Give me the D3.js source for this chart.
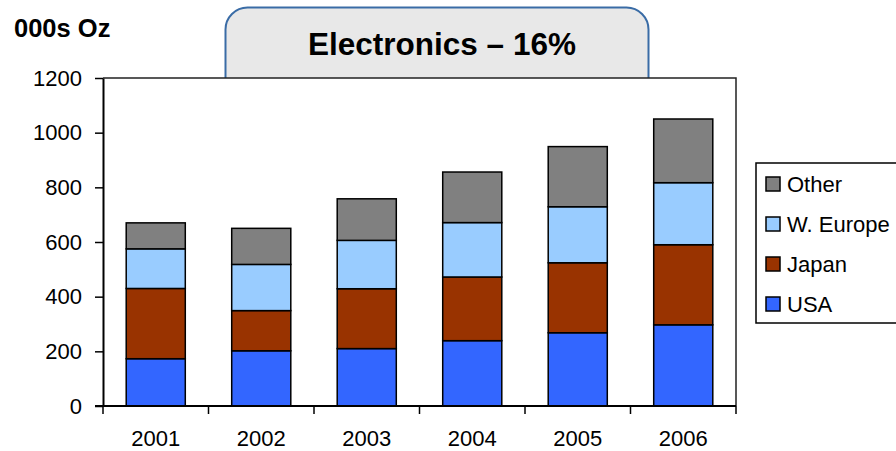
<!DOCTYPE html>
<html>
<head>
<meta charset="utf-8">
<script src="https://cdn.jsdelivr.net/npm/d3@7"></script>
<style>
    body { margin: 0; background: #fff; }
    svg { display: block; }
    text { font-family: "Liberation Sans", Arial, sans-serif; fill: #000; }
</style>
</head>
<body>
<div id="chart"></div>
<script>
// Data (000s oz)
var years = ["2001", "2002", "2003", "2004", "2005", "2006"];
var usa = [173, 202, 210, 239, 268, 297];
var japan = [257, 147, 219, 233, 256, 293];
var wEurope = [145, 169, 177, 199, 205, 227];
var other = [95, 132, 152, 185, 220, 233];
var seriesNames = ["USA", "Japan", "W. Europe", "Other"];
var seriesColors = ["#3366ff", "#993300", "#99ccff", "#808080"];
var yTicks = [0, 200, 400, 600, 800, 1000, 1200];

var width = 896,
    height = 451,
    plot = { left: 103, right: 736, top: 78, bottom: 406 };

var svg = d3.select("#chart").append("svg")
    .attr("width", width)
    .attr("height", height);

// Title tab, partly hidden behind the plot area
svg.append("rect")
    .attr("x", 225.5)
    .attr("y", 7.5)
    .attr("width", 423)
    .attr("height", 110)
    .attr("rx", 22)
    .attr("ry", 22)
    .attr("fill", "#e8e8e8")
    .attr("stroke", "#3a6ca6")
    .attr("stroke-width", 2);

svg.append("text")
    .attr("x", 442)
    .attr("y", 55)
    .attr("text-anchor", "middle")
    .attr("font-size", "31.5px")
    .attr("font-weight", "bold")
    .text("Electronics \u2013 16%");

svg.append("text")
    .attr("x", 14)
    .attr("y", 37)
    .attr("font-size", "25.5px")
    .attr("font-weight", "bold")
    .text("000s Oz");

// plot area background covers the bottom of the title tab
svg.append("rect")
    .attr("x", plot.left)
    .attr("y", plot.top)
    .attr("width", plot.right - plot.left)
    .attr("height", plot.bottom - plot.top)
    .attr("fill", "#fff");

var x = d3.scaleBand()
    .domain(years)
    .range([plot.left, plot.right])
    .paddingInner(0.44)
    .paddingOuter(0.22);

var xOuter = d3.scaleBand()
    .domain(years)
    .range([plot.left, plot.right]);

var y = d3.scaleLinear()
    .domain([0, 1200])
    .range([plot.bottom, plot.top]);

var rows = years.map(function (yr, i) {
    return { year: yr, "USA": usa[i], "Japan": japan[i], "W. Europe": wEurope[i], "Other": other[i] };
});
var stacked = d3.stack().keys(seriesNames)(rows);

// Bars
svg.append("g").selectAll("g")
    .data(stacked)
    .enter().append("g")
    .attr("fill", function (d, i) { return seriesColors[i]; })
    .selectAll("rect")
    .data(function (d) { return d; })
    .enter().append("rect")
    .attr("x", function (d) { return x(d.data.year); })
    .attr("y", function (d) { return y(d[1]); })
    .attr("width", x.bandwidth())
    .attr("height", function (d) { return y(d[0]) - y(d[1]); })
    .attr("stroke", "#000")
    .attr("stroke-width", 1.5);

// Plot border (top and right)
svg.append("path")
    .attr("d", "M" + plot.left + "," + plot.top + "H" + plot.right + "V" + plot.bottom)
    .attr("fill", "none")
    .attr("stroke", "#222")
    .attr("stroke-width", 1.5);

// Y axis
var yAxis = svg.append("g")
    .attr("transform", "translate(" + plot.left + ",0)")
    .call(d3.axisLeft(y).tickValues(yTicks).tickFormat(d3.format("d"))
        .tickSize(8).tickPadding(13).tickSizeOuter(0));
yAxis.attr("font-family", null).attr("font-size", null);
yAxis.select(".domain").attr("stroke", "#000").attr("stroke-width", 2);
yAxis.selectAll(".tick line").attr("stroke", "#000").attr("stroke-width", 1.5);
yAxis.selectAll(".tick text")
    .attr("font-size", "22px")
    .attr("fill", "#000");

// X axis: ticks sit on category boundaries
var xAxis = svg.append("g")
    .attr("transform", "translate(0," + plot.bottom + ")");
xAxis.append("line")
    .attr("x1", plot.left - 8)
    .attr("x2", plot.right)
    .attr("stroke", "#000")
    .attr("stroke-width", 2);
var boundaries = years.map(function (yr) { return xOuter(yr); }).concat([plot.right]);
xAxis.selectAll("line.tick")
    .data(boundaries)
    .enter().append("line")
    .attr("class", "tick")
    .attr("x1", function (d) { return d; })
    .attr("x2", function (d) { return d; })
    .attr("y1", 0)
    .attr("y2", 8)
    .attr("stroke", "#000")
    .attr("stroke-width", 1.5);
xAxis.selectAll("text")
    .data(years)
    .enter().append("text")
    .attr("x", function (d) { return x(d) + x.bandwidth() / 2; })
    .attr("y", 40)
    .attr("text-anchor", "middle")
    .attr("font-size", "22px")
    .text(function (d) { return d; });

// Legend, top entry is the top of the stack
var legend = svg.append("g");
legend.append("rect")
    .attr("x", 756)
    .attr("y", 163)
    .attr("width", 160)
    .attr("height", 160)
    .attr("fill", "#fff")
    .attr("stroke", "#000")
    .attr("stroke-width", 1.5);

var legendItems = legend.selectAll("g.item")
    .data(seriesNames.slice().reverse())
    .enter().append("g")
    .attr("class", "item")
    .attr("transform", function (d, i) { return "translate(766," + (184 + i * 40) + ")"; });
legendItems.append("rect")
    .attr("x", 0)
    .attr("y", -7)
    .attr("width", 14)
    .attr("height", 14)
    .attr("fill", function (d) { return seriesColors[seriesNames.indexOf(d)]; })
    .attr("stroke", "#000")
    .attr("stroke-width", 1.5);
legendItems.append("text")
    .attr("x", 21)
    .attr("y", 8)
    .attr("font-size", "22px")
    .text(function (d) { return d; });
</script>
</body>
</html>
